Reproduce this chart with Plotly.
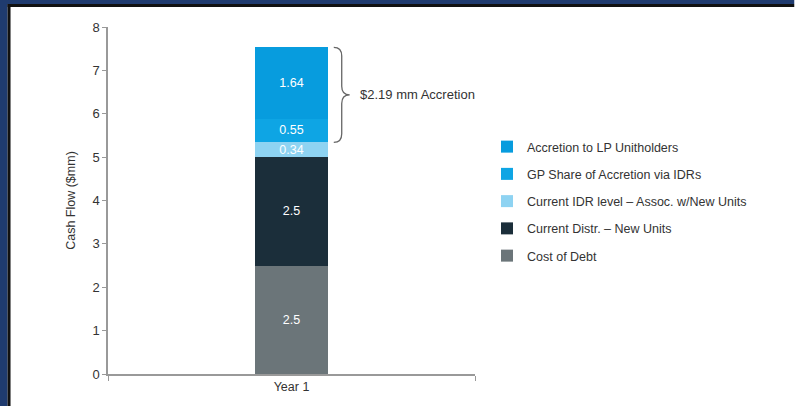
import plotly.graph_objects as go

# ---- data ----
categories = ["Year 1"]
series_names = [
    "Cost of Debt",
    "Current Distr. – New Units",
    "Current IDR level – Assoc. w/New Units",
    "GP Share of Accretion via IDRs",
    "Accretion to LP Unitholders",
]
series_values = [
    [2.5],
    [2.5],
    [0.34],
    [0.55],
    [1.64],
]
bar_labels = ["2.5", "2.5", "0.34", "0.55", "1.64"]
series_colors = ["#6b7579", "#1b2e3a", "#8ed3f2", "#0ea5e4", "#079cde"]
accretion_label = "$2.19 mm Accretion"
y_ticks = [0, 1, 2, 3, 4, 5, 6, 7, 8]

# ---- layout geometry ----
W, H = 796, 406
ML, MR, MT, MB = 108, 319, 27, 32
PW, PH = W - ML - MR, H - MT - MB


def px_x(px):
    return (px - ML) / PW


def px_y(py):
    return (H - MB - py) / PH


fig = go.Figure()
n = len(series_names)
for i, (name, vals, lab, col) in enumerate(zip(series_names, series_values, bar_labels, series_colors)):
    fig.add_trace(go.Bar(
        x=categories, y=vals, name=name,
        marker=dict(color=col, line=dict(width=0)),
        text=[lab], textposition="inside", insidetextanchor="middle",
        textfont=dict(color="white", size=12.5, family="Liberation Sans, Arial"),
        width=0.2, legendgroup=name, legendrank=n - i,
        hoverinfo="skip",
    ))

# brace around accretion segments (from data)
y_bot = sum(v[0] for v in series_values[:3])
y_top = sum(v[0] for v in series_values)
y_mid = (y_bot + y_top) / 2
bx0, bx1, bx2 = px_x(335), px_x(343), px_x(351)
d = 0.2
path = (f"M {bx0},{y_top} Q {bx1},{y_top} {bx1},{y_top - d} "
        f"L {bx1},{y_mid + d} Q {bx1},{y_mid} {bx2},{y_mid} "
        f"Q {bx1},{y_mid} {bx1},{y_mid - d} "
        f"L {bx1},{y_bot + d} Q {bx1},{y_bot} {bx0},{y_bot}")
shapes = [dict(type="path", path=path, xref="paper", yref="y",
               line=dict(color="#666666", width=1.3))]

# navy frame (left and top)
navy = "#1f3b6f"
shapes += [
    dict(type="rect", xref="paper", yref="paper", x0=px_x(-2), x1=px_x(7), y0=px_y(H + 2), y1=px_y(-2),
         fillcolor=navy, line=dict(width=0), layer="above"),
    dict(type="rect", xref="paper", yref="paper", x0=px_x(-2), x1=px_x(W + 2), y0=px_y(4), y1=px_y(-2),
         fillcolor=navy, line=dict(width=0), layer="above"),
    dict(type="rect", xref="paper", yref="paper", x0=px_x(7), x1=px_x(10), y0=px_y(H + 2), y1=px_y(4),
         fillcolor="#111111", line=dict(width=0), layer="above"),
    dict(type="rect", xref="paper", yref="paper", x0=px_x(7), x1=px_x(W + 2), y0=px_y(7), y1=px_y(4),
         fillcolor="#111111", line=dict(width=0), layer="above"),
]

fig.add_annotation(
    x=px_x(359), y=y_mid, xref="paper", yref="y", text=accretion_label,
    showarrow=False, xanchor="left", yanchor="middle",
    font=dict(size=13, color="#333333", family="Liberation Sans, Arial"),
)

fig.update_layout(
    width=W, height=H,
    margin=dict(l=ML, r=MR, t=MT, b=MB),
    barmode="stack",
    paper_bgcolor="white", plot_bgcolor="white",
    font=dict(family="Liberation Sans, Arial", color="#333333", size=12),
    shapes=shapes,
    showlegend=True,
    uniformtext=dict(minsize=12, mode="show"),
    legend=dict(
        traceorder="grouped", tracegroupgap=8,
        xref="container", yref="container",
        x=487 / W, y=1 - 132 / H, xanchor="left", yanchor="top",
        font=dict(size=12.5, color="#333333"),
        bgcolor="rgba(0,0,0,0)",
    ),
    xaxis=dict(
        range=[-0.5, 0.5], showline=True, linecolor="#999999", linewidth=1.5,
        ticks="outside", tickson="boundaries", ticklen=5, tickcolor="#999999",
        showgrid=False, tickfont=dict(size=12.5, color="#333333"),
    ),
    yaxis=dict(
        range=[0, 8], tickvals=y_ticks, showline=True, linecolor="#999999", linewidth=1.5,
        ticks="outside", ticklen=4, tickcolor="#999999", showgrid=False, zeroline=False,
        tickfont=dict(size=13, color="#333333"),
        title=dict(text="Cash Flow ($mm)", font=dict(size=12.5, color="#333333"), standoff=14),
    ),
)

fig.write_html(
    "out.html",
    config={"displayModeBar": False},
    post_script="document.body.style.margin='0';document.body.style.overflow='hidden';",
)
